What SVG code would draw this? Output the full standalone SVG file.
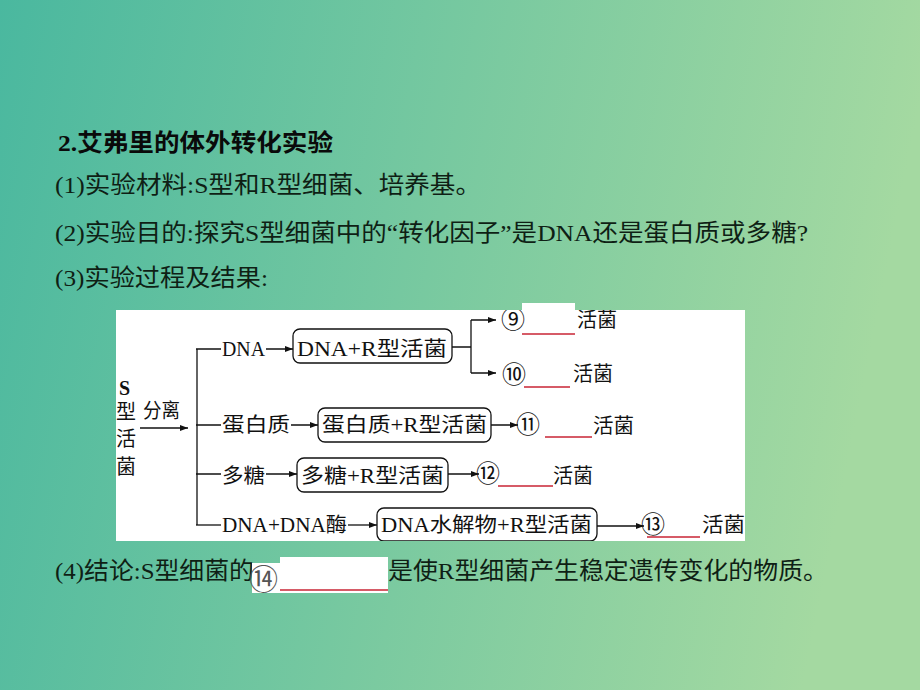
<svg xmlns="http://www.w3.org/2000/svg" width="920" height="690" viewBox="0 0 920 690">
<defs>
<linearGradient id="bg" x1="0" y1="0" x2="1" y2="0.15">
<stop offset="0" stop-color="#4ab89f"/>
<stop offset="1" stop-color="#a4d9a1"/>
</linearGradient>
<clipPath id="panelClip">
<rect x="116" y="310" width="629" height="231"/>
<rect x="522" y="303" width="53" height="8"/>
</clipPath>
<marker id="ah" viewBox="0 0 8 6" refX="8" refY="3" markerWidth="8" markerHeight="6" markerUnits="userSpaceOnUse" orient="auto">
<path d="M0,0 L8,3 L0,6 z" fill="#111"/>
</marker>
<style>
.t{font-family:"Liberation Serif","Noto Sans CJK SC",serif;fill:#0f1f15;font-size:24px}
.title{font-weight:bold;fill:#0a0a0a}
.d{font-family:"Liberation Serif","Noto Sans CJK SC",serif;fill:#111;font-size:20px}
.c{font-family:"Noto Sans CJK SC","DejaVu Sans",sans-serif;fill:#111;font-size:24px}
.box{fill:#fff;stroke:#111;stroke-width:1.3}
.ln{fill:none;stroke:#111;stroke-width:1.3}
.arr{fill:none;stroke:#111;stroke-width:1.3;marker-end:url(#ah)}
.red{fill:none;stroke:#c82535;stroke-width:1.3}
.white{fill:#fff}
</style>
</defs>
<rect x="0" y="0" width="920" height="690" fill="url(#bg)"/>

<g id="text-lines">
<text class="t title" x="58" y="151" textLength="275" lengthAdjust="spacingAndGlyphs">2.艾弗里的体外转化实验</text>
<text class="t" x="55" y="193" textLength="426" lengthAdjust="spacingAndGlyphs">(1)实验材料:S型和R型细菌、培养基。</text>
<text class="t" x="55" y="241" textLength="753" lengthAdjust="spacingAndGlyphs">(2)实验目的:探究S型细菌中的“转化因子”是DNA还是蛋白质或多糖?</text>
<text class="t" x="55" y="286" textLength="213" lengthAdjust="spacingAndGlyphs">(3)实验过程及结果:</text>
</g>

<g id="conclusion">
<text class="t" x="55" y="579" textLength="199" lengthAdjust="spacingAndGlyphs">(4)结论:S型细菌的</text>
<rect class="white" x="252" y="563" width="28" height="30"/>
<rect class="white" x="280" y="557" width="108" height="36"/>
<line class="red" x1="280" y1="590" x2="388" y2="590" stroke-width="1.6" stroke="#d04b5a"/>
<text x="249" y="590" font-family="Noto Sans CJK SC, DejaVu Sans, sans-serif" font-size="29" fill="#555">⑭</text>
<text class="t" x="388" y="579" textLength="440" lengthAdjust="spacingAndGlyphs">是使R型细菌产生稳定遗传变化的物质。</text>
</g>

<g id="diagram" clip-path="url(#panelClip)">
<rect id="panel" x="116" y="310" width="629" height="231" fill="#fff"/>
<rect x="522" y="303" width="53" height="8" fill="#fff"/>

<g id="source">
<text class="d" x="119" y="395" font-weight="bold" font-size="23">S</text>
<text class="d" x="116" y="419">型</text>
<text class="d" x="116" y="446">活</text>
<text class="d" x="116" y="474">菌</text>
<text class="d" x="143" y="418" font-size="17" textLength="37" lengthAdjust="spacingAndGlyphs">分离</text>
</g>

<g id="connectors">
<line class="arr" x1="140" y1="428" x2="188" y2="428"/>
<line class="ln" x1="197" y1="349" x2="197" y2="525"/>
<line class="ln" x1="196" y1="349" x2="221" y2="349"/>
<line class="ln" x1="196" y1="425" x2="221" y2="425"/>
<line class="ln" x1="196" y1="474" x2="221" y2="474"/>
<line class="ln" x1="196" y1="525" x2="221" y2="525"/>
<line class="arr" x1="266" y1="349" x2="293" y2="349"/>
<line class="arr" x1="291" y1="425" x2="318" y2="425"/>
<line class="arr" x1="266" y1="474" x2="297" y2="474"/>
<line class="arr" x1="348" y1="525" x2="377" y2="525"/>
<line class="ln" x1="452" y1="347" x2="471" y2="347"/>
<line class="ln" x1="471" y1="320" x2="471" y2="373"/>
<line class="arr" x1="471" y1="320" x2="496" y2="320"/>
<line class="arr" x1="471" y1="373" x2="496" y2="373"/>
<line class="arr" x1="491" y1="425" x2="518" y2="425"/>
<line class="arr" x1="448" y1="474" x2="479" y2="474"/>
<line class="arr" x1="597" y1="526" x2="644" y2="526"/>
</g>

<g id="n-dna">
<text class="d" x="222" y="356" textLength="43" lengthAdjust="spacingAndGlyphs">DNA</text>
<rect class="box" x="293" y="329" width="159" height="34" rx="7"/>
<text class="d" x="297" y="356" textLength="150" lengthAdjust="spacingAndGlyphs">DNA+R型活菌</text>
</g>
<g id="r9">
<text class="c" x="501" y="328">⑨</text>
<line class="red" x1="522" y1="334" x2="575" y2="334"/>
<text class="d" x="577" y="327" textLength="40" lengthAdjust="spacingAndGlyphs">活菌</text>
</g>
<g id="r10">
<text class="c" x="502" y="383">⑩</text>
<line class="red" x1="524" y1="387" x2="570" y2="387"/>
<text class="d" x="573" y="381" textLength="40" lengthAdjust="spacingAndGlyphs">活菌</text>
</g>

<g id="n-protein">
<text class="d" x="222" y="432" textLength="68" lengthAdjust="spacingAndGlyphs">蛋白质</text>
<rect class="box" x="318" y="408" width="173" height="34" rx="7"/>
<text class="d" x="322" y="432" textLength="165" lengthAdjust="spacingAndGlyphs">蛋白质+R型活菌</text>
</g>
<g id="r11">
<text class="c" x="516" y="433">⑪</text>
<line class="red" x1="545" y1="437" x2="592" y2="437"/>
<text class="d" x="593" y="433" textLength="41" lengthAdjust="spacingAndGlyphs">活菌</text>
</g>

<g id="n-sugar">
<text class="d" x="222" y="483" textLength="43" lengthAdjust="spacingAndGlyphs">多糖</text>
<rect class="box" x="297" y="458" width="151" height="34" rx="7"/>
<text class="d" x="301" y="483" textLength="143" lengthAdjust="spacingAndGlyphs">多糖+R型活菌</text>
</g>
<g id="r12">
<text class="c" x="476" y="482">⑫</text>
<line class="red" x1="498" y1="486" x2="553" y2="486"/>
<text class="d" x="553" y="483" textLength="40" lengthAdjust="spacingAndGlyphs">活菌</text>
</g>

<g id="n-dnase">
<text class="d" x="222" y="532" textLength="125" lengthAdjust="spacingAndGlyphs">DNA+DNA酶</text>
<rect class="box" x="377" y="508" width="220" height="33" rx="7"/>
<text class="d" x="381" y="532" textLength="211" lengthAdjust="spacingAndGlyphs">DNA水解物+R型活菌</text>
</g>
<g id="r13">
<text class="c" x="641" y="533">⑬</text>
<line class="red" x1="647" y1="537" x2="700" y2="537"/>
<text class="d" x="702" y="532" textLength="43" lengthAdjust="spacingAndGlyphs">活菌</text>
</g>
</g>
</svg>
